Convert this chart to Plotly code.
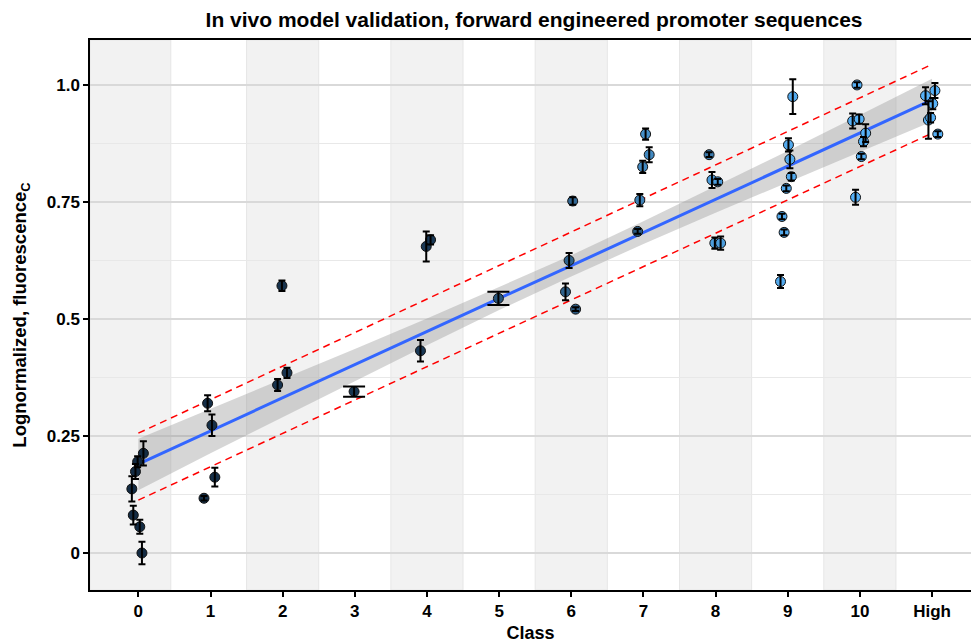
import plotly.graph_objects as go

# ---------------- data ----------------
class_ticks = [0, 1, 2, 3, 4, 5, 6, 7, 8, 9, 10, 11]
class_labels = ["0", "1", "2", "3", "4", "5", "6", "7", "8", "9", "10", "High"]

# jittered class position of each promoter
x_pos = [-0.09, -0.07, 0.02, 0.05, -0.04, -0.01, 0.07,
         0.96, 1.02, 1.06, 0.91,
         1.99, 1.93, 2.06,
         2.99,
         3.99, 4.05, 3.91,
         4.99,
         6.02, 5.97, 5.92, 6.06,
         7.03, 7.08, 6.99, 6.95, 6.92,
         7.91, 7.95, 8.03, 7.99, 8.07,
         9.07, 9.01, 9.03, 9.05, 8.98, 8.92, 8.95, 8.90,
         9.96, 9.90, 9.99, 10.08, 10.05, 10.02, 9.94,
         10.91, 11.04, 11.01, 10.95, 10.98, 11.08]
fluor = [0.137, 0.081, 0.056, 0.000, 0.174, 0.195, 0.213,
         0.320, 0.273, 0.162, 0.117,
         0.571, 0.359, 0.385,
         0.345,
         0.655, 0.669, 0.432,
         0.544,
         0.752, 0.625, 0.558, 0.521,
         0.895, 0.851, 0.825, 0.754, 0.687,
         0.851, 0.797, 0.793, 0.662, 0.662,
         0.975, 0.872, 0.841, 0.804, 0.779, 0.719, 0.685, 0.580,
         1.000, 0.923, 0.927, 0.897, 0.879, 0.847, 0.760,
         0.977, 0.988, 0.960, 0.925, 0.930, 0.895]
fluor_err = [0.027, 0.020, 0.015, 0.024, 0.016, 0.012, 0.026,
             0.017, 0.023, 0.020, 0.005,
             0.011, 0.013, 0.011,
             0.011,
             0.032, 0.010, 0.023,
             0.014,
             0.008, 0.016, 0.018, 0.004,
             0.012, 0.016, 0.013, 0.013, 0.005,
             0.005, 0.017, 0.006, 0.012, 0.014,
             0.037, 0.014, 0.019, 0.008, 0.006, 0.006, 0.006, 0.014,
             0.006, 0.016, 0.010, 0.019, 0.010, 0.006, 0.016,
             0.018, 0.016, 0.012, 0.040, 0.010, 0.006]
colour_score = [0.0, 0.0, 0.0, 0.0, 0.0, 0.0, 0.0,
                0.03, 0.03, 0.03, 0.03,
                0.06, 0.06, 0.06,
                0.08,
                0.10, 0.10, 0.10,
                0.30,
                0.45, 0.40, 0.40, 0.35,
                0.75, 0.70, 0.70, 0.65, 0.35,
                0.60, 0.85, 0.85, 0.85, 0.85,
                0.95, 0.95, 0.95, 0.95, 0.95, 0.95, 0.95, 0.95,
                1.0, 1.0, 1.0, 1.0, 1.0, 1.0, 1.0,
                1.0, 1.0, 1.0, 1.0, 1.0, 1.0]
wide_cap_classes = [3, 5]

# fitted model, confidence ribbon and prediction interval
fit_x = [0, 1, 2, 3, 4, 5, 6, 7, 8, 9, 10, 11]
fit_y = [0.190, 0.261, 0.331, 0.402, 0.473, 0.544, 0.614, 0.685, 0.756, 0.826, 0.897, 0.968]
ci_low = [0.134, 0.213, 0.290, 0.367, 0.444, 0.519, 0.591, 0.660, 0.727, 0.792, 0.857, 0.922]
ci_high = [0.244, 0.308, 0.371, 0.436, 0.501, 0.568, 0.636, 0.709, 0.784, 0.859, 0.936, 1.013]
pi_x = [0, 11]
pi_low = [0.113, 0.897]
pi_high = [0.256, 1.044]

band_x0 = [-0.67, 1.5, 3.5, 5.5, 7.5, 9.5]
band_x1 = [0.45, 2.5, 4.5, 6.5, 8.5, 10.5]

# ---------------- figure ----------------
fig = go.Figure()

fig.add_trace(go.Scatter(x=fit_x + fit_x[::-1], y=ci_high + ci_low[::-1],
                         fill="toself", fillcolor="rgba(153,153,153,0.4)",
                         line=dict(width=0), mode="lines", hoverinfo="skip",
                         showlegend=False))
fig.add_trace(go.Scatter(x=fit_x, y=fit_y, mode="lines",
                         line=dict(color="#3366FF", width=3), showlegend=False))
for pi in (pi_low, pi_high):
    fig.add_trace(go.Scatter(x=pi_x, y=pi, mode="lines",
                             line=dict(color="#FF0000", width=1.5, dash="7px,5px"),
                             showlegend=False))

fig.add_trace(go.Scatter(
    x=x_pos, y=fluor, mode="markers",
    marker=dict(size=10, color=colour_score,
                colorscale=[[0, "#132B43"], [1, "#56B1F7"]], cmin=0, cmax=1,
                line=dict(color="#111111", width=1)),
    showlegend=False))

narrow = [i for i, x in enumerate(x_pos) if round(x) not in wide_cap_classes]
wide = [i for i, x in enumerate(x_pos) if round(x) in wide_cap_classes]
for idx, w in ((narrow, 3.5), (wide, 11)):
    fig.add_trace(go.Scatter(
        x=[x_pos[i] for i in idx], y=[fluor[i] for i in idx], mode="markers",
        marker=dict(size=1, opacity=0),
        error_y=dict(type="data", array=[fluor_err[i] for i in idx],
                     color="black", thickness=2, width=w),
        showlegend=False, hoverinfo="skip"))

shapes = []
for a, b in zip(band_x0, band_x1):
    shapes.append(dict(type="rect", xref="x", yref="paper", x0=a, x1=b, y0=0, y1=1,
                       fillcolor="#F2F2F2", line=dict(color="#E6E6E6", width=1),
                       layer="below"))

FAM = "Liberation Sans, Arial, sans-serif"
tickfont = dict(family=FAM, size=17, color="black", weight="bold")

fig.update_layout(
    width=971, height=643,
    margin=dict(l=90, r=0, t=40, b=53),
    paper_bgcolor="white", plot_bgcolor="white",
    shapes=shapes,
    title=dict(text="<b>In vivo model validation, forward engineered promoter sequences</b>",
               x=0.55, xanchor="center", y=0.97, yanchor="middle",
               font=dict(family=FAM, size=21, color="black")),
    xaxis=dict(range=[-0.67, 11.54], tickvals=class_ticks, ticktext=class_labels,
               showgrid=False, zeroline=False, showline=True, linecolor="black",
               linewidth=1.5, mirror=True, ticks="outside", ticklen=5, tickwidth=1.5,
               tickcolor="black", tickfont=tickfont,
               title=dict(text="<b>Class</b>", standoff=6,
                          font=dict(family=FAM, size=18, color="black"))),
    yaxis=dict(range=[-0.079, 1.096], tickvals=[0, 0.25, 0.5, 0.75, 1.0],
               ticktext=["0", "0.25", "0.5", "0.75", "1.0"],
               showgrid=True, gridcolor="#D9D9D9", gridwidth=1.6, zeroline=False,
               minor=dict(tickvals=[0.125, 0.375, 0.625, 0.875], showgrid=True,
                          gridcolor="#E8E8E8", gridwidth=1, ticks=""),
               showline=True, linecolor="black", linewidth=1.5,
               ticks="outside", ticklen=5, tickwidth=1.5, tickcolor="black",
               tickfont=tickfont,
               title=dict(text="<b>Lognormalized, fluorescence<sub>C</sub></b>", standoff=15,
                          font=dict(family=FAM, size=18.5, color="black"))),
)

fig.write_html("out.html")
